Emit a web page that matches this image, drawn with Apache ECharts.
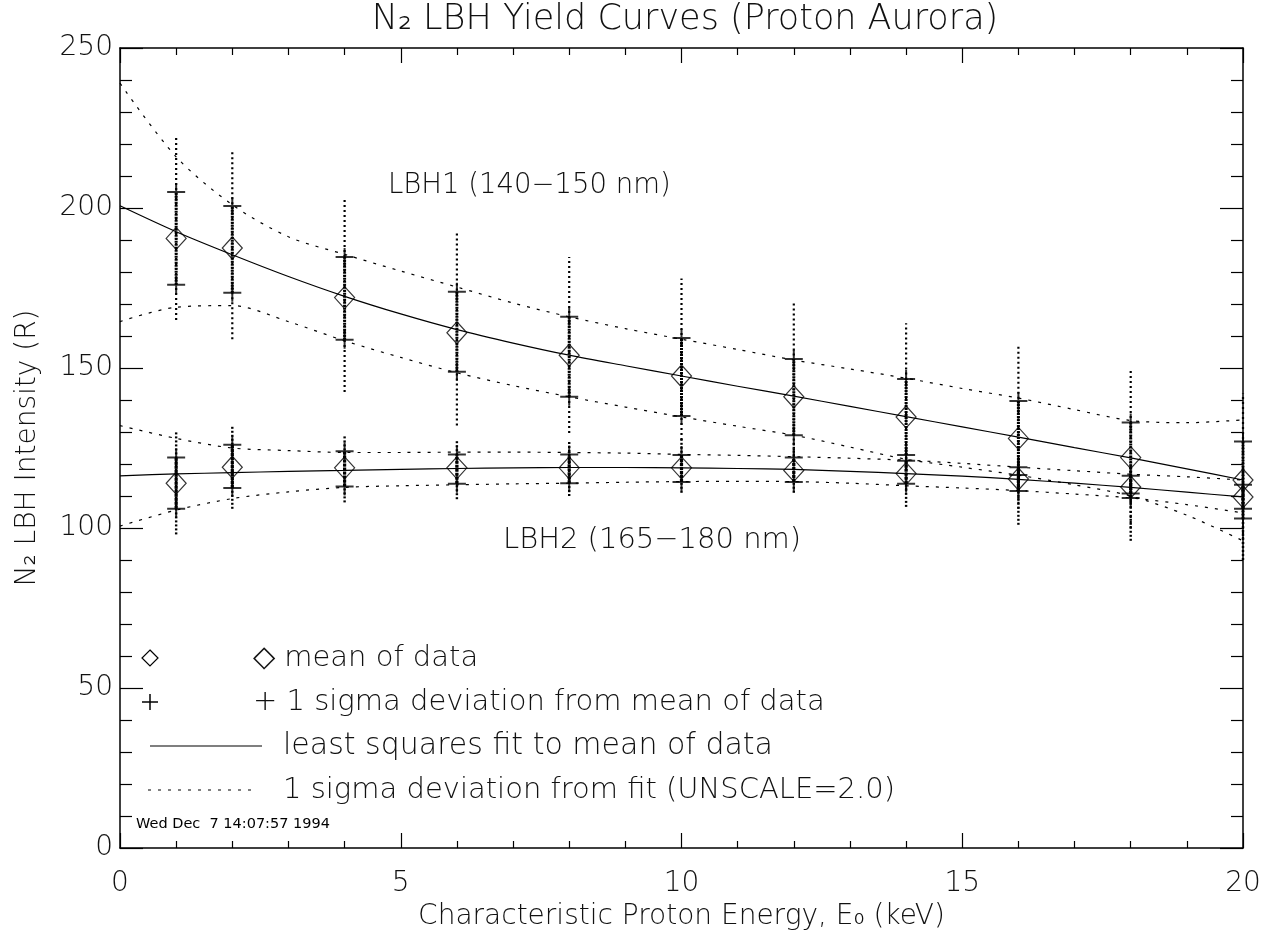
<!DOCTYPE html>
<html>
<head>
<meta charset="utf-8">
<title>N2 LBH Yield Curves</title>
<script src="https://cdn.jsdelivr.net/npm/echarts@6/dist/echarts.min.js"></script>
<style>
  html, body { margin: 0; padding: 0; background: #fff; }
  #chart { width: 1273px; height: 934px; }
</style>
</head>
<body>
<div id="chart"></div>
<script>
// energies where the data were averaged (keV)
const energies = [1, 2, 4, 6, 8, 10, 12, 14, 16, 18, 20]
// energies where the fitted curves are sampled (keV)
const fitEnergies = [0, 1, 2, 3, 4, 5, 6, 7, 8, 9, 10, 11, 12, 13, 14, 15, 16, 17, 18, 19, 20]

// LBH1 (140-150 nm)
const lbh1Mean = [190.5, 187.5, 172, 161, 154, 147.5, 141, 134.7, 128, 122, 115]
const lbh1SigmaHigh = [205, 200.6, 184.7, 173.8, 166, 159.4, 152.8, 146.6, 139.7, 133, 127]
const lbh1SigmaLow = [176, 173.5, 158.8, 148.8, 141, 135, 129, 122.8, 116.6, 110.8, 103]
const lbh1DataMax = [222, 218, 202.5, 192, 184.7, 178, 171, 164, 157, 150, 142]
const lbh1DataMin = [165, 159, 142.5, 132, 129.7, 127.5, 118, 112, 106, 100, 95]
const lbh1Fit = [200.7, 192.6, 185.4, 178.6, 172.4, 166.9, 162, 157.8, 154, 150.7, 147.5, 144.3, 141.2, 138, 134.8, 131.6, 128.4, 125.1, 121.9, 118.5, 115]
const lbh1FitHigh = [239, 216, 201, 191, 185.5, 180.3, 175.3, 170.3, 166, 162.3, 159, 155.8, 152.5, 149.7, 146.8, 143.6, 140.6, 137, 133.6, 132.9, 133.8]
const lbh1FitLow = [164.5, 169, 169.5, 164.5, 158.5, 153.3, 148.5, 144.5, 141, 137.8, 134.7, 131.8, 129, 125.3, 121.5, 119, 116.5, 113.5, 110, 104, 96]

// LBH2 (165-180 nm)
const lbh2Mean = [114, 119, 118.8, 118.8, 118.8, 118.8, 118, 117, 115.3, 112.8, 109.7]
const lbh2SigmaHigh = [122, 126, 124, 123, 123, 122.8, 122, 121, 119, 116.3, 113.5]
const lbh2SigmaLow = [106, 112.5, 113, 113.8, 114, 114.4, 114.4, 113.8, 111.6, 109.4, 106]
const lbh2DataMax = [130, 132, 129, 127.5, 127.5, 128.5, 127, 125, 122, 120, 118]
const lbh2DataMin = [98, 106, 108, 109, 110, 111, 111, 106.6, 101, 96, 90]
const lbh2Fit = [116.3, 116.9, 117.3, 117.7, 118, 118.3, 118.6, 118.8, 118.9, 118.9, 118.8, 118.6, 118.3, 117.7, 117, 116.2, 115.2, 114, 112.7, 111.2, 109.7]
const lbh2FitHigh = [132, 128, 125, 124.2, 123.6, 123.6, 123.7, 123.7, 123.6, 123.4, 123, 122.7, 122.3, 121.8, 121.2, 120.2, 119, 117.9, 116.8, 116, 115]
const lbh2FitLow = [100.6, 105.6, 109.2, 111.3, 112.7, 113.2, 113.5, 113.8, 114, 114.3, 114.5, 114.6, 114.5, 114, 113.2, 112.5, 111.7, 110.6, 109.4, 107.3, 104.7]

const FONT = 'DejaVu Sans'
const INK = '#111'
const DOTS = [3, 7]

const pair = (xs, ys) => xs.map((x, i) => [x, ys[i]])
const range = (lo, hi) => energies.map((x, i) => [x, lo[i], hi[i]])
const font = (size) => `200 ${size}px "${FONT}"`

const chart = echarts.init(document.getElementById('chart'))

// vertical column of individual samples, drawn as a dotted segment
const columnRenderer = (dash, width) => (params, api) => {
  const a = api.coord([api.value(0), api.value(1)])
  const b = api.coord([api.value(0), api.value(2)])
  return {
    type: 'line',
    shape: { x1: a[0], y1: a[1], x2: b[0], y2: b[1] },
    style: { stroke: '#000', lineWidth: width, lineDash: dash }
  }
}

const columnSeries = (lo, hi, dash, width) => ({
  type: 'custom',
  renderItem: columnRenderer(dash, width),
  encode: { x: 0, y: [1, 2] },
  data: range(lo, hi),
  clip: false,
  silent: true,
  z: 1
})

const fitSeries = (ys, dotted) => ({
  type: 'line',
  data: pair(fitEnergies, ys),
  smooth: 0.3,
  showSymbol: false,
  silent: true,
  lineStyle: { color: '#000', width: 1.2, type: dotted ? DOTS : 'solid' },
  z: 3
})

const plusSymbol = 'path://M0,10L20,10M10,0L10,20'

const plusSeries = (ys) => ({
  type: 'scatter',
  data: pair(energies, ys),
  symbol: plusSymbol,
  symbolSize: 18,
  itemStyle: { color: 'none', borderColor: '#000', borderWidth: 2 },
  silent: true,
  z: 5
})

const meanSeries = (ys) => ({
  type: 'scatter',
  data: pair(energies, ys),
  symbol: 'diamond',
  symbolSize: [20, 22],
  itemStyle: { color: 'rgba(0,0,0,0)', borderColor: '#000', borderWidth: 1.2 },
  silent: true,
  z: 6
})

const tickStyle = { color: '#000', width: 1.2 }

const axisCommon = {
  min: 0,
  axisLine: { onZero: false, lineStyle: { color: '#000', width: 1.5 } },
  splitLine: { show: false }
}

const xTicks = {
  axisTick: { inside: true, length: 15, lineStyle: tickStyle },
  minorTick: { show: true, splitNumber: 5, length: 7, lineStyle: tickStyle }
}

const yTicks = {
  axisTick: { inside: true, length: 23, lineStyle: tickStyle },
  minorTick: { show: true, splitNumber: 5, length: 12, lineStyle: tickStyle }
}

const option = {
  animation: false,
  backgroundColor: '#fff',
  grid: { left: 120, right: 30, top: 48, bottom: 86, outerBoundsMode: 'none' },
  xAxis: [
    {
      ...axisCommon,
      ...xTicks,
      type: 'value',
      max: 20,
      interval: 5,
      position: 'bottom',
      axisLabel: { color: INK, fontFamily: FONT, fontWeight: 200, fontSize: 28, margin: 22 },
      name: 'Characteristic Proton Energy, E₀ (keV)',
      nameLocation: 'middle',
      nameGap: 55,
      nameTextStyle: { color: INK, fontFamily: FONT, fontWeight: 200, fontSize: 28 }
    },
    {
      ...axisCommon,
      ...xTicks,
      type: 'value',
      max: 20,
      interval: 5,
      position: 'top',
      axisLabel: { show: false }
    }
  ],
  yAxis: [
    {
      ...axisCommon,
      ...yTicks,
      type: 'value',
      max: 250,
      interval: 50,
      position: 'left',
      axisLabel: { color: INK, fontFamily: FONT, fontWeight: 200, fontSize: 28, margin: 7 },
      name: 'N₂ LBH Intensity (R)',
      nameLocation: 'middle',
      nameGap: 78,
      nameRotate: 90,
      nameTextStyle: { color: INK, fontFamily: FONT, fontWeight: 200, fontSize: 28 }
    },
    {
      ...axisCommon,
      ...yTicks,
      type: 'value',
      max: 250,
      interval: 50,
      position: 'right',
      axisLabel: { show: false }
    }
  ],
  series: [
    // raw samples
    columnSeries(lbh1DataMin, lbh1DataMax, [2, 3], 2.2),
    columnSeries(lbh1SigmaLow, lbh1SigmaHigh, [2, 1], 3),
    columnSeries(lbh2DataMin, lbh2DataMax, [2, 2], 2.4),
    columnSeries(lbh2SigmaLow, lbh2SigmaHigh, [3, 1], 3.2),
    // least squares fits and their 1 sigma band
    fitSeries(lbh1Fit, false),
    fitSeries(lbh1FitHigh, true),
    fitSeries(lbh1FitLow, true),
    fitSeries(lbh2Fit, false),
    fitSeries(lbh2FitHigh, true),
    fitSeries(lbh2FitLow, true),
    // 1 sigma of the data
    plusSeries(lbh1SigmaHigh),
    plusSeries(lbh1SigmaLow),
    plusSeries(lbh2SigmaHigh),
    plusSeries(lbh2SigmaLow),
    // means
    meanSeries(lbh1Mean),
    meanSeries(lbh2Mean)
  ],
  graphic: [
    {
      type: 'text', x: 685, y: 20,
      style: { text: 'N₂ LBH Yield Curves (Proton Aurora)', fill: INK, font: font(35), align: 'center', verticalAlign: 'middle' }
    },
    {
      type: 'text', x: 388, y: 186,
      style: { text: 'LBH1 (140−150 nm)', fill: INK, font: font(27.5), verticalAlign: 'middle' }
    },
    {
      type: 'text', x: 503, y: 540,
      style: { text: 'LBH2 (165−180 nm)', fill: INK, font: font(29), verticalAlign: 'middle' }
    },
    // legend
    {
      type: 'polygon',
      shape: { points: [[150, 650], [158, 658], [150, 666], [142, 658]] },
      style: { fill: 'none', stroke: '#000', lineWidth: 1.2 }
    },
    {
      type: 'text', x: 253, y: 658,
      style: { text: '◇ mean of data', fill: INK, font: font(29), verticalAlign: 'middle' }
    },
    { type: 'line', shape: { x1: 142, y1: 702, x2: 158, y2: 702 }, style: { stroke: '#000', lineWidth: 1.5 } },
    { type: 'line', shape: { x1: 150, y1: 694, x2: 150, y2: 710 }, style: { stroke: '#000', lineWidth: 1.5 } },
    {
      type: 'text', x: 253, y: 702,
      style: { text: '+ 1 sigma deviation from mean of data', fill: INK, font: font(29), verticalAlign: 'middle' }
    },
    { type: 'line', shape: { x1: 150, y1: 746, x2: 262, y2: 746 }, style: { stroke: '#000', lineWidth: 1.2 } },
    {
      type: 'text', x: 283, y: 746,
      style: { text: 'least squares fit to mean of data', fill: INK, font: font(30), verticalAlign: 'middle' }
    },
    { type: 'line', shape: { x1: 148, y1: 790, x2: 258, y2: 790 }, style: { stroke: '#000', lineWidth: 1.2, lineDash: DOTS } },
    {
      type: 'text', x: 283, y: 790,
      style: { text: '1 sigma deviation from fit (UNSCALE=2.0)', fill: INK, font: font(29), verticalAlign: 'middle' }
    },
    {
      type: 'text', x: 136, y: 824,
      style: { text: 'Wed Dec  7 14:07:57 1994', fill: '#000', font: `14.5px "${FONT}"`, verticalAlign: 'middle' }
    }
  ]
}

chart.setOption(option)
</script>
</body>
</html>
